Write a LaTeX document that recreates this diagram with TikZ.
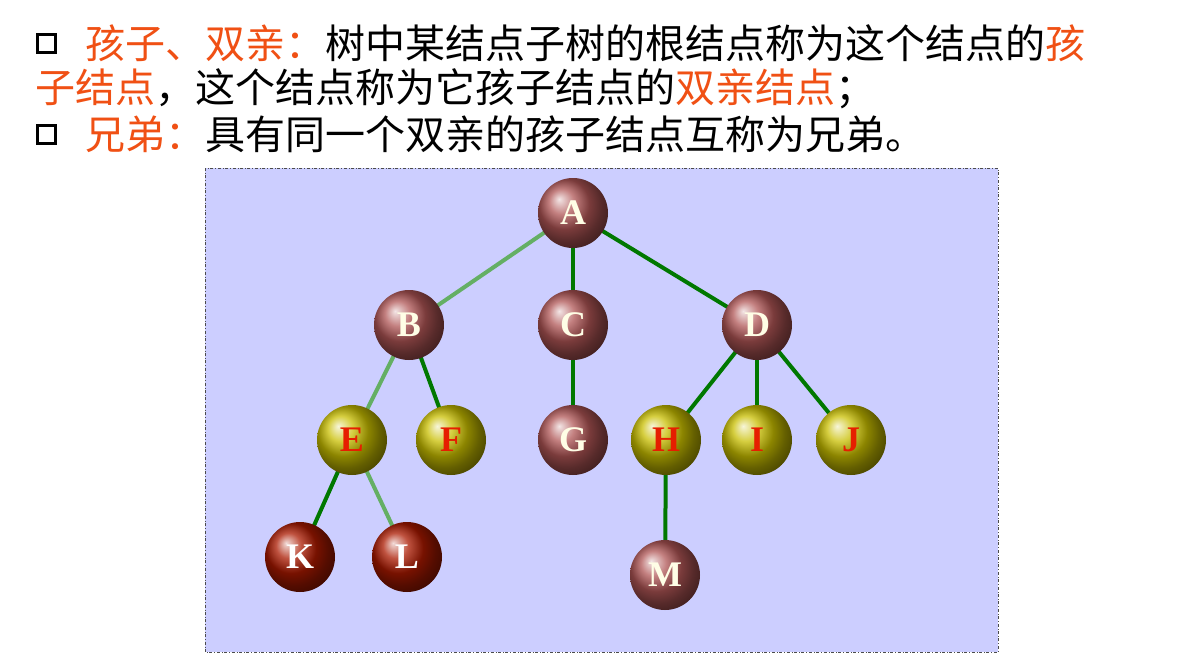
\documentclass[tikz,border=0pt]{standalone}
\usepackage{fontspec}
\setmainfont{Liberation Serif}
\newfontfamily\cjk{Noto Sans CJK SC}
\definecolor{org}{RGB}{240,80,20}
\definecolor{mvc}{RGB}{175,85,85}
\definecolor{ylc}{RGB}{200,190,0}
\definecolor{ylt}{RGB}{230,30,0}
\definecolor{rdc}{RGB}{170,25,0}
\definecolor{dkg}{RGB}{0,120,0}
\definecolor{ltg}{RGB}{100,175,100}
\definecolor{bgc}{RGB}{204,206,255}
\begin{document}
\begin{tikzpicture}[x=1pt,y=-1pt,
  ball/.style={circle,minimum size=70pt,inner sep=0pt,shading=ball,font=\bfseries\fontsize{36}{36}\selectfont},
  mv/.style={ball,ball color=mvc,text=white!90!yellow},
  yl/.style={ball,ball color=ylc,text=ylt},
  rd/.style={ball,ball color=rdc,text=white},
  dk/.style={line width=4pt,draw=dkg},
  lt/.style={line width=4pt,draw=ltg},
  txt/.style={anchor=west,inner sep=0pt,font=\cjk\fontsize{40}{40}\selectfont},
  sq/.style={draw=black,line width=3pt,minimum size=18pt,inner sep=0pt}]
\useasboundingbox[fill=white] (0,0) rectangle (1192,664);
\fill[bgc] (205,168) rectangle (998,652);
\draw[dash dot,line width=1pt,black!70] (205,168) rectangle (998,652);
\node[sq] (s1) at (46,43) {};
\node[sq] (s3) at (46,134) {};
\node[txt] (l1) at (85,43) {\textcolor{org}{孩子、双亲：}树中某结点子树的根结点称为这个结点的\textcolor{org}{孩}};
\node[txt] (l2) at (35,89) {\textcolor{org}{子结点}，这个结点称为它孩子结点的\textcolor{org}{双亲结点}；};
\node[txt] (l3) at (85,134) {\textcolor{org}{兄弟：}具有同一个双亲的孩子结点互称为兄弟。};
\coordinate (A) at (573,213); \coordinate (B) at (409,325); \coordinate (C) at (573,325);
\coordinate (D) at (757,325); \coordinate (E) at (352,440); \coordinate (F) at (451,440);
\coordinate (G) at (573,440); \coordinate (H) at (666,440); \coordinate (I) at (757,440);
\coordinate (J) at (851,440); \coordinate (K) at (300,557); \coordinate (L) at (407,557);
\coordinate (M) at (665,575);
\draw[lt] (A)--(B); \draw[dk] (A)--(C); \draw[dk] (A)--(D);
\draw[lt] (B)--(E); \draw[dk] (B)--(F); \draw[dk] (C)--(G);
\draw[dk] (D)--(H); \draw[dk] (D)--(I); \draw[dk] (D)--(J);
\draw[dk] (E)--(K); \draw[lt] (E)--(L); \draw[dk] (H)--(M);
\node[mv] (nA) at (A) {A}; \node[mv] (nB) at (B) {B}; \node[mv] (nC) at (C) {C};
\node[mv] (nD) at (D) {D}; \node[yl] (nE) at (E) {E}; \node[yl] (nF) at (F) {F};
\node[mv] (nG) at (G) {G}; \node[yl] (nH) at (H) {H}; \node[yl] (nI) at (I) {I};
\node[yl] (nJ) at (J) {J}; \node[rd] (nK) at (K) {K}; \node[rd] (nL) at (L) {L};
\node[mv] (nM) at (M) {M};
\end{tikzpicture}
\end{document}
